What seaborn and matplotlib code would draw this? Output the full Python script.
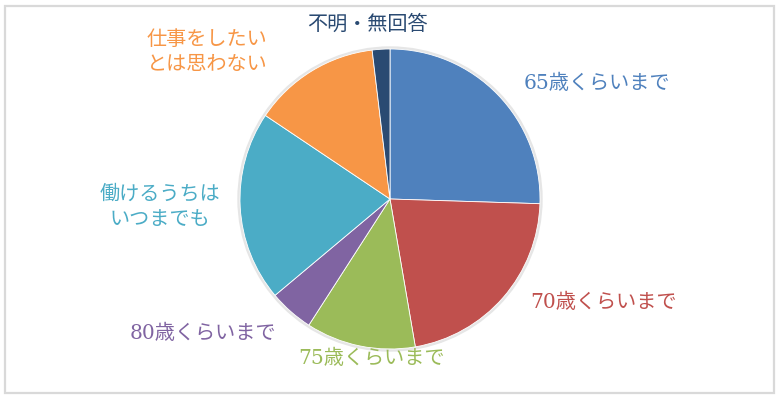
import matplotlib
matplotlib.use("Agg")
import matplotlib.pyplot as plt
import seaborn as sns
from matplotlib.patches import Rectangle, Circle

# 就業意向（％）: 時計回り、12時の位置から
labels = ["65歳くらいまで", "70歳くらいまで", "75歳くらいまで", "80歳くらいまで",
          "働けるうちは\nいつまでも", "仕事をしたい\nとは思わない", "不明・無回答"]
values = [25.5, 21.8, 11.8, 4.8, 20.5, 13.7, 1.9]
colors = ["#4F81BD", "#C0504D", "#9BBB59", "#8064A2", "#4BACC6", "#F79646", "#2A4A72"]

# label positions in pixels (x from left, y from top)
label_pos = [(597, 83), (603, 302), (372, 358), (203, 333),
             (160, 207), (207, 52), (367, 24)]

sns.set_theme(style="white")
plt.rcParams["font.family"] = ["DejaVu Serif", "Noto Sans CJK JP", "DejaVu Sans"]

W, H = 780, 400
fig = plt.figure(figsize=(W / 100, H / 100), dpi=100)
ax = fig.add_axes([0, 0, 1, 1])

# chart frame
ax.add_patch(Rectangle((5, H - 393), 769, 387, fill=False,
                       edgecolor="#D9D9D9", linewidth=1.6))

cx, cy, r = 390, H - 199, 150
# soft outline around the pie
ax.add_patch(Circle((cx, cy), r + 2, color="#E6E6E6", zorder=1))

ax.pie(values, colors=colors, startangle=90, counterclock=False,
       center=(cx, cy), radius=r, frame=True,
       wedgeprops=dict(edgecolor="white", linewidth=0.6, zorder=2))
ax.set_xlim(0, W)
ax.set_ylim(0, H)
ax.set_aspect("equal")
ax.axis("off")

for lab, (x, y), c in zip(labels, label_pos, colors):
    ax.text(x, H - y, lab, color=c, fontsize=14.5, ha="center", va="center",
            linespacing=1.45)

fig.savefig("out.png", dpi=100)
plt.close(fig)
